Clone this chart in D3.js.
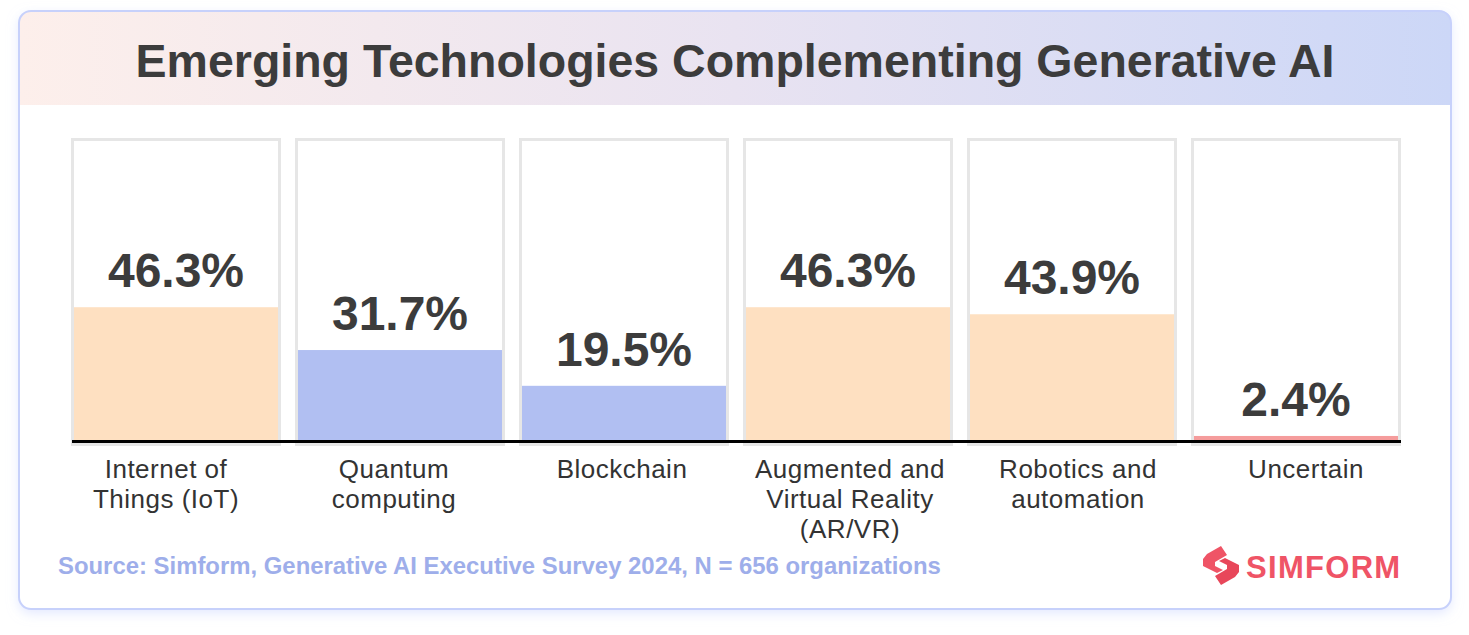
<!DOCTYPE html>
<html><head><meta charset="utf-8">
<script src="https://cdn.jsdelivr.net/npm/d3@7"></script>
<style>
html,body{margin:0;padding:0;background:#fff;}
svg{display:block;}
</style></head>
<body>
<svg id="chart" width="1469" height="635"></svg>
<script>
const title = "Emerging Technologies Complementing Generative AI";
const categories = ["Internet of|Things (IoT)", "Quantum|computing", "Blockchain", "Augmented and|Virtual Reality|(AR/VR)", "Robotics and|automation", "Uncertain"];
const values = [46.3, 31.7, 19.5, 46.3, 43.9, 2.4];
const colorGroups = ["peach", "blue", "blue", "peach", "peach", "red"];
const source = "Source: Simform, Generative AI Executive Survey 2024, N = 656 organizations";
const brand = "SIMFORM";

const palette = {peach: "#fee0c1", blue: "#b1bff2", red: "#f59c9c"};
const svg = d3.select("#chart");
const defs = svg.append("defs");

const f = defs.append("filter").attr("id","glow").attr("x","-5%").attr("y","-10%").attr("width","110%").attr("height","125%");
f.append("feGaussianBlur").attr("in","SourceAlpha").attr("stdDeviation",6).attr("result","b");
f.append("feFlood").attr("flood-color","#c9d3ff").attr("flood-opacity",0.55);
f.append("feComposite").attr("in2","b").attr("operator","in").attr("result","s");
f.append("feOffset").attr("in","s").attr("dx",0).attr("dy",4).attr("result","o");
const fm = f.append("feMerge"); fm.append("feMergeNode").attr("in","o"); fm.append("feMergeNode").attr("in","SourceGraphic");

const grad = defs.append("linearGradient").attr("id","hdr").attr("x1","0").attr("x2","1").attr("y1","0").attr("y2","0");
grad.append("stop").attr("offset","0").attr("stop-color","#fdefeb");
grad.append("stop").attr("offset","0.5").attr("stop-color","#e9e3f1");
grad.append("stop").attr("offset","1").attr("stop-color","#ccd7f7");

const card = {x:19, y:11, w:1432, h:598, r:12};
svg.append("rect").attr("x",card.x).attr("y",card.y).attr("width",card.w).attr("height",card.h)
  .attr("rx",card.r).attr("fill","#fff").attr("filter","url(#glow)");
const hb = 105;
svg.append("path").attr("fill","url(#hdr)")
  .attr("d",`M${card.x},${hb} V${card.y+card.r} Q${card.x},${card.y} ${card.x+card.r},${card.y} H${card.x+card.w-card.r} Q${card.x+card.w},${card.y} ${card.x+card.w},${card.y+card.r} V${hb} Z`);
svg.append("rect").attr("x",card.x).attr("y",card.y).attr("width",card.w).attr("height",card.h)
  .attr("rx",card.r).attr("fill","none").attr("stroke","#c7d1fb").attr("stroke-width",2);

svg.append("text").attr("x",735).attr("y",77).attr("text-anchor","middle")
  .attr("font-family","Liberation Sans, Arial, sans-serif").attr("font-weight","bold")
  .attr("font-size",46.5).attr("fill","#3c3c3c").text(title);

// scales
const x = d3.scaleBand().domain(d3.range(categories.length)).range([71, 1415]);
const xLabel = d3.scalePoint().domain(d3.range(categories.length)).range([166, 1306]);
const boxW = 210;
const y = d3.scaleLinear().domain([0, 104]).range([443, 138]);

const g = svg.append("g");
const cols = g.selectAll("g.col").data(values).join("g").attr("class","col")
  .attr("transform",(d,i)=>`translate(${x(i)},0)`);

cols.append("rect").attr("x",1.5).attr("y",y(104)+1.5).attr("width",boxW-3).attr("height",446-y(104)-3)
  .attr("fill","#fff").attr("stroke","#e6e6e6").attr("stroke-width",3);
cols.append("rect").attr("x",3).attr("width",boxW-6)
  .attr("y",d=>y(d)).attr("height",d=>y(0)-y(d)-1)
  .attr("fill",(d,i)=>palette[colorGroups[i]]);
cols.append("text").attr("x",boxW/2).attr("y",d=>y(d)-20).attr("text-anchor","middle")
  .attr("font-family","Liberation Sans, Arial, sans-serif").attr("font-weight","bold")
  .attr("font-size",48).attr("fill","#3c3c3c").text(d=>d+"%");

svg.append("g").selectAll("text").data(categories).join("text")
  .attr("text-anchor","middle")
  .attr("font-family","Liberation Sans, Arial, sans-serif").attr("font-size",26)
  .attr("letter-spacing",0.5).attr("fill","#333")
  .each(function(d,i){
    const t = d3.select(this);
    d.split("|").forEach((line,k)=>{
      t.append("tspan").attr("x",xLabel(i)).attr("y",478+k*30).text(line);
    });
  });

svg.append("line").attr("x1",x(0)+1).attr("x2",x(categories.length-1)+boxW).attr("y1",y(0)-1.5).attr("y2",y(0)-1.5)
  .attr("stroke","#000").attr("stroke-width",3);

svg.append("text").attr("x",58).attr("y",574)
  .attr("font-family","Liberation Sans, Arial, sans-serif").attr("font-weight","bold")
  .attr("font-size",23.9).attr("fill","#9eaeea").text(source);

const lg = svg.append("g").attr("transform","translate(1203,546)");
lg.append("path").attr("fill","#ef5466")
  .attr("d","M18,0 L4,8 L0,13 L0,20 L14,27 L20,24 L12,20 L12,16 L24,9 Z");
lg.append("path").attr("fill","#e8475a")
  .attr("d","M18,39 L32,31 L36,26 L36,19 L22,12 L16,15 L24,19 L24,23 L12,30 Z");
svg.append("text").attr("x",1246).attr("y",578)
  .attr("font-family","Liberation Sans, Arial, sans-serif").attr("font-weight","bold")
  .attr("font-size",31).attr("fill","#ef5466").attr("letter-spacing",1.3).text(brand);
</script>
</body></html>
